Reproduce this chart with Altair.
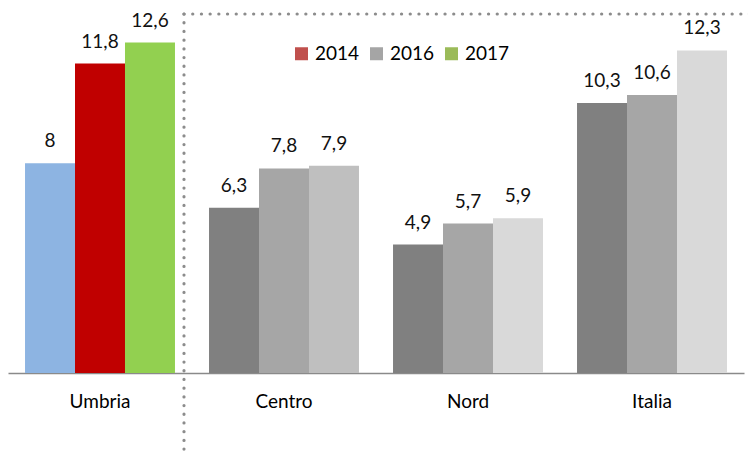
import altair as alt
import pandas as pd

regions = ["Umbria", "Centro", "Nord", "Italia"]
years = ["2014", "2016", "2017"]
v2014 = [8, 6.3, 4.9, 10.3]
v2016 = [11.8, 7.8, 5.7, 10.6]
v2017 = [12.6, 7.9, 5.9, 12.3]

bar_colors = {
    "Umbria": ["#8DB4E2", "#C00000", "#92D050"],
    "Centro": ["#808080", "#A6A6A6", "#BFBFBF"],
    "Nord": ["#808080", "#A6A6A6", "#D9D9D9"],
    "Italia": ["#808080", "#A6A6A6", "#D9D9D9"],
}
legend_colors = ["#C0504D", "#A5A5A5", "#9BBB59"]

rows = []
for i, r in enumerate(regions):
    for j, (yr, vals) in enumerate(zip(years, [v2014, v2016, v2017])):
        rows.append({"region": r, "year": yr, "value": vals[i], "fill": bar_colors[r][j]})
df = pd.DataFrame(rows)

FONT = "Lato"
FS = 19

base = alt.Chart(df).encode(
    x=alt.X(
        "region:N",
        sort=regions,
        scale=alt.Scale(paddingInner=0.185, paddingOuter=0.0925),
        axis=alt.Axis(
            title=None, ticks=False, tickSize=0, labelPadding=34,
            labelBaseline="alphabetic", labelAngle=0, labelFont=FONT,
            labelFontSize=FS, labelColor="#000000", domainColor="#8a8a8a",
            domainWidth=1.4,
        ),
    ),
    xOffset=alt.XOffset("year:N", sort=years, scale=alt.Scale(paddingInner=0, paddingOuter=0)),
    y=alt.Y("value:Q", scale=alt.Scale(domain=[0, 13.5], nice=False), axis=None),
)

bars = base.mark_bar().encode(fill=alt.Fill("fill:N", scale=None))

labels = base.transform_calculate(
    lbl="replace(toString(datum.value), '.', ',')"
).mark_text(
    baseline="alphabetic", dy=-16, font=FONT, fontSize=FS, color="#111111"
).encode(text="lbl:N")

legend_layer = alt.Chart(pd.DataFrame({"year": years})).mark_bar().encode(
    x=alt.value(0), x2=alt.value(0), y=alt.value(0), y2=alt.value(0),
    color=alt.Color(
        "year:N",
        sort=years,
        scale=alt.Scale(domain=years, range=legend_colors),
        legend=alt.Legend(
            orient="none", legendX=284, legendY=25, direction="horizontal",
            title=None, symbolType="square", symbolSize=169, symbolStrokeWidth=0,
            labelFont=FONT, labelFontSize=FS, labelColor="#000000",
            labelOffset=4, columnPadding=7,
        ),
    ),
)

one = pd.DataFrame({"a": [0]})
vline = alt.Chart(one).mark_rule(
    color="#8c8c8c", strokeWidth=3.2, strokeDash=[0.1, 8.6], strokeCap="round"
).encode(x=alt.value(176), y=alt.value(-5), y2=alt.value(444))
hline = alt.Chart(one).mark_rule(
    color="#8c8c8c", strokeWidth=3.2, strokeDash=[0.1, 8.6], strokeCap="round"
).encode(x=alt.value(176), x2=alt.value(748), y=alt.value(-5))

chart = alt.layer(bars, labels, legend_layer, vline, hline).properties(
    width=736,
    height=354,
    padding={"left": 0, "top": 11, "right": 4, "bottom": 82},
    autosize=alt.AutoSizeParams(type="none"),
).configure_view(stroke=None)

chart.save("out.html", embed_options={"renderer": "svg", "actions": False})
